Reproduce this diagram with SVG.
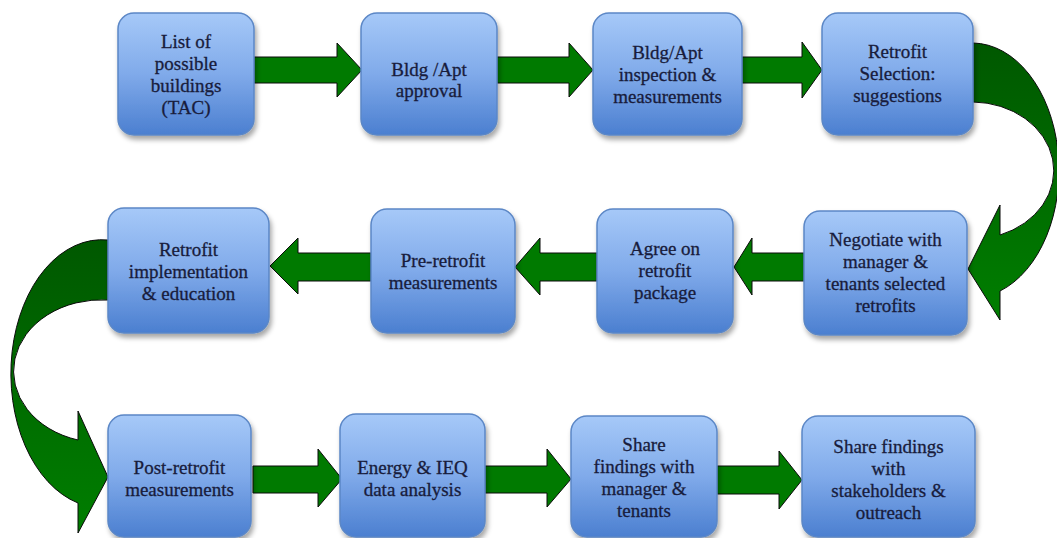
<svg xmlns="http://www.w3.org/2000/svg" width="1057" height="538" viewBox="0 0 1057 538">
<defs>
<linearGradient id="nodeGrad" x1="0" y1="0" x2="0" y2="1">
<stop offset="0" stop-color="#a6c9f8"/>
<stop offset="0.5" stop-color="#80aaea"/>
<stop offset="1" stop-color="#4b7fd0"/>
</linearGradient>
<linearGradient id="curveGradR" x1="0" y1="0" x2="0" y2="1">
<stop offset="0" stop-color="#005800"/>
<stop offset="1" stop-color="#007e00"/>
</linearGradient>
<filter id="shadow" x="-10%" y="-10%" width="125%" height="130%">
<feDropShadow dx="2" dy="4" stdDeviation="2.5" flood-color="#000" flood-opacity="0.35"/>
</filter>
</defs>
<style>
.node rect { fill: url(#nodeGrad); stroke: #5b87c6; stroke-width: 1.5; filter: url(#shadow); }
.node text { font-family: "Liberation Serif", "Times New Roman", serif; font-size: 19px; fill: #181c3c; stroke: #181c3c; stroke-width: 0.3; text-anchor: middle; }
.arrow { fill: #007a00; stroke: #0a0a0a; stroke-width: 1; stroke-linejoin: miter; }
.curve { fill: url(#curveGradR); stroke: #0a0a0a; stroke-width: 1; }
</style>
<rect width="1057" height="538" fill="#ffffff"/>
<g id="connectors">
<polygon class="arrow" points="254,57 337,57 337,43 362,70 337,97 337,83 254,83"/>
<polygon class="arrow" points="497,57 569,57 569,43 593,70 569,97 569,83 497,83"/>
<polygon class="arrow" points="742,57 802,57 802,42 822,70 802,98 802,83 742,83"/>
<path class="curve" d="M 973,43 A 87 127.4 0 0 1 1000,291 L 1000,320 L 968,269 L 1000,205 L 1000,235 A 82 68.6 0 0 0 973,102 Z"/>
<polygon class="arrow" points="804,253 752,253 752,238 734,267 752,295 752,281 804,281"/>
<polygon class="arrow" points="597,253 540,253 540,238 515,267 540,295 540,281 597,281"/>
<polygon class="arrow" points="371,253 298,253 298,238 270,266 298,294 298,281 371,281"/>
<path class="curve" d="M 108,240 A 91 134 0 0 0 78,503 L 78,533 L 108,477 L 78,411 L 78,440 A 88 71.4 0 0 1 108,300 Z"/>
<polygon class="arrow" points="253,466 318,466 318,449 342,479 318,507 318,493 253,493"/>
<polygon class="arrow" points="485,466 547,466 547,449 571,479 547,507 547,493 485,493"/>
<polygon class="arrow" points="717,466 779,466 779,451 802,480 779,509 779,494 717,494"/>
</g>
<g id="node-list" class="node">
<rect x="118" y="13" width="136" height="122" rx="16"/>
<text x="186" y="48">List of</text>
<text x="186" y="70">possible</text>
<text x="186" y="92">buildings</text>
<text x="186" y="114">(TAC)</text>
</g>
<g id="node-approval" class="node">
<rect x="361" y="13" width="136" height="122" rx="16"/>
<text x="429" y="76">Bldg /Apt</text>
<text x="429" y="97">approval</text>
</g>
<g id="node-inspection" class="node">
<rect x="593" y="13" width="149" height="122" rx="16"/>
<text x="667.5" y="59">Bldg/Apt</text>
<text x="667.5" y="81">inspection &amp;</text>
<text x="667.5" y="103">measurements</text>
</g>
<g id="node-selection" class="node">
<rect x="822" y="13" width="151" height="122" rx="16"/>
<text x="897.5" y="58">Retrofit</text>
<text x="897.5" y="80">Selection:</text>
<text x="897.5" y="102">suggestions</text>
</g>
<g id="node-negotiate" class="node">
<rect x="804" y="211" width="163" height="124" rx="16"/>
<text x="885.5" y="246">Negotiate with</text>
<text x="885.5" y="268">manager &amp;</text>
<text x="885.5" y="290">tenants selected</text>
<text x="885.5" y="312">retrofits</text>
</g>
<g id="node-agree" class="node">
<rect x="597" y="209" width="136" height="124" rx="16"/>
<text x="665" y="255">Agree on</text>
<text x="665" y="277">retrofit</text>
<text x="665" y="299">package</text>
</g>
<g id="node-pre" class="node">
<rect x="371" y="209" width="144" height="124" rx="16"/>
<text x="443" y="267">Pre-retrofit</text>
<text x="443" y="289">measurements</text>
</g>
<g id="node-implementation" class="node">
<rect x="108" y="208" width="161" height="125" rx="16"/>
<text x="188.5" y="256">Retrofit</text>
<text x="188.5" y="278">implementation</text>
<text x="188.5" y="300">&amp; education</text>
</g>
<g id="node-post" class="node">
<rect x="108" y="415" width="143" height="122" rx="16"/>
<text x="179.5" y="474">Post-retrofit</text>
<text x="179.5" y="496">measurements</text>
</g>
<g id="node-analysis" class="node">
<rect x="340" y="414" width="145" height="123" rx="16"/>
<text x="412.5" y="474">Energy &amp; IEQ</text>
<text x="412.5" y="496">data analysis</text>
</g>
<g id="node-share-manager" class="node">
<rect x="571" y="416" width="146" height="121" rx="16"/>
<text x="644" y="451">Share</text>
<text x="644" y="473">findings with</text>
<text x="644" y="495">manager &amp;</text>
<text x="644" y="517">tenants</text>
</g>
<g id="node-share-stakeholders" class="node">
<rect x="802" y="416" width="173" height="121" rx="16"/>
<text x="888.5" y="453">Share findings</text>
<text x="888.5" y="475">with</text>
<text x="888.5" y="497">stakeholders &amp;</text>
<text x="888.5" y="519">outreach</text>
</g>
</svg>
